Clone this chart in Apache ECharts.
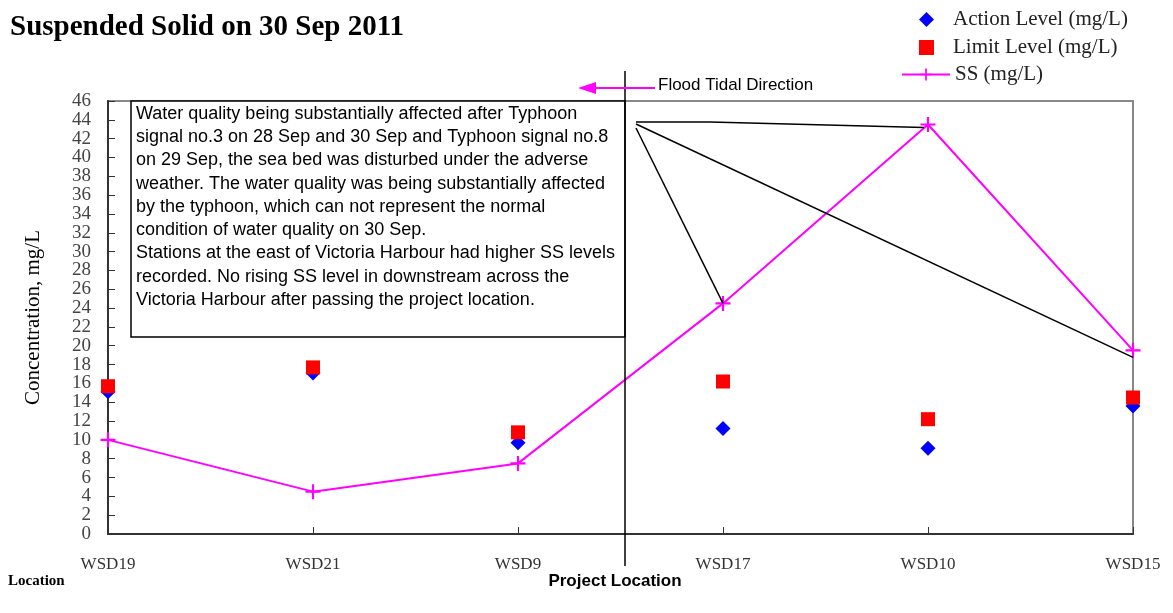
<!DOCTYPE html>
<html>
<head>
<meta charset="UTF-8"/>
<title>Suspended Solid on 30 Sep 2011</title>
<script src="https://cdn.jsdelivr.net/npm/echarts@6/dist/echarts.min.js"></script>
<style>
html, body { margin: 0; padding: 0; background: #fff; }
#main { width: 1173px; height: 613px; }
</style>
</head>
<body>
<div id="main"></div>
<script type="text/javascript">
// stations (left to right)
var stations = ['WSD19', 'WSD21', 'WSD9', 'WSD17', 'WSD10', 'WSD15'];
// values, mg/L
var actionLevel = [15.1, 17.1, 9.7, 11.2, 9.1, 13.6];
var limitLevel = [15.7, 17.7, 10.8, 16.2, 12.2, 14.5];
var ssValues = [10, 4.5, 7.5, 24.5, 43.5, 19.5];
var yTicks = { min: 0, max: 46, step: 2 };

var noteLines = [
  'Water quality being substantially affected after Typhoon',
  'signal no.3 on 28 Sep and 30 Sep and Typhoon signal no.8',
  'on 29 Sep, the sea bed was disturbed under the adverse',
  'weather. The water quality was being substantially affected',
  'by the typhoon, which can not represent the normal',
  'condition of water quality on 30 Sep.',
  'Stations at the east of Victoria Harbour had higher SS levels',
  'recorded. No rising SS level in downstream across the',
  'Victoria Harbour after passing the project location.'
];

var serif = '"Liberation Serif", "DejaVu Serif", serif';
var sans = '"Liberation Sans", Arial, sans-serif';
var plus = 'path://M6,0h2v6h6v2h-6v6h-2v-6h-6v-2h6z';

var legendText = { fontFamily: serif, fontSize: 21, color: '#222' };

var myChart = echarts.init(document.getElementById('main'));

var option = {
  animation: false,
  backgroundColor: '#fff',
  title: {
    text: 'Suspended Solid on 30 Sep 2011',
    left: 5, top: 8,
    textStyle: { fontFamily: serif, fontSize: 29, fontWeight: 'bold', color: '#000' }
  },
  // one legend per row so that scatter icons keep their own size
  legend: [
    { left: 914, top: 4, itemWidth: 15, itemHeight: 15,
      textStyle: Object.assign({ padding: [0, 0, 0, 14] }, legendText),
      data: ['Action Level (mg/L)'] },
    { left: 914, top: 32, itemWidth: 15, itemHeight: 15,
      textStyle: Object.assign({ padding: [0, 0, 0, 14] }, legendText),
      data: ['Limit Level (mg/L)'] },
    { left: 896, top: 59, itemWidth: 48, itemHeight: 15,
      textStyle: Object.assign({ padding: [0, 0, 0, 0] }, legendText),
      data: ['SS (mg/L)'] }
  ],
  grid: {
    left: 108, right: 40, top: 101, bottom: 79,
    show: true, borderColor: '#888', borderWidth: 2, backgroundColor: '#fff'
  },
  xAxis: {
    type: 'category',
    data: stations,
    boundaryGap: false,
    axisLine: { lineStyle: { color: '#333', width: 2 } },
    axisTick: { inside: true, length: 7, lineStyle: { color: '#333' } },
    axisLabel: { margin: 22, fontFamily: serif, fontSize: 17, color: '#333' },
    splitLine: { show: false }
  },
  yAxis: {
    type: 'value',
    min: yTicks.min, max: yTicks.max, interval: yTicks.step,
    name: 'Concentration, mg/L',
    nameLocation: 'middle',
    nameGap: 64,
    nameTextStyle: { fontFamily: serif, fontSize: 21, color: '#000' },
    axisLine: { show: true, lineStyle: { color: '#333', width: 2 } },
    axisTick: { show: true, inside: true, length: 7, lineStyle: { color: '#333' } },
    axisLabel: { margin: 17, fontFamily: serif, fontSize: 19, color: '#444' },
    splitLine: { show: false }
  },
  series: [
    {
      name: 'Action Level (mg/L)',
      type: 'scatter',
      symbol: 'diamond',
      symbolSize: 15,
      itemStyle: { color: '#0000ff', opacity: 1 },
      data: actionLevel,
      z: 3
    },
    {
      name: 'Limit Level (mg/L)',
      type: 'scatter',
      symbol: 'rect',
      symbolSize: 14,
      itemStyle: { color: '#ff0000', opacity: 1 },
      data: limitLevel,
      z: 4
    },
    {
      name: 'SS (mg/L)',
      type: 'line',
      symbol: plus,
      symbolSize: 15,
      showSymbol: true,
      lineStyle: { color: '#ff00ff', width: 2 },
      itemStyle: { color: '#ff00ff' },
      data: ssValues,
      z: 5
    }
  ]
};

myChart.setOption(option, true);

// annotations: note box, project location line, tidal arrow, callout lines
var px = function (i, v) { return myChart.convertToPixel({ gridIndex: 0 }, [i, v]); };
var p17 = px(3, ssValues[3]);
var p10 = px(4, ssValues[4]);
var p15 = px(5, ssValues[5]);
var projX = 625;

var graphics = [
  { type: 'rect', shape: { x: 131, y: 101, width: projX - 131, height: 236 },
    style: { fill: '#fff', stroke: '#000', lineWidth: 1.5 }, z: 10 },
  { type: 'text', x: 136, y: 102,
    style: { text: noteLines.join('\n'), font: '18px ' + sans, fill: '#000', lineHeight: 23.3 }, z: 11 },
  { type: 'line', shape: { x1: projX, y1: 71, x2: projX, y2: 566 },
    style: { stroke: '#000', lineWidth: 1.5 }, z: 12 },
  { type: 'text', x: 615, y: 581,
    style: { text: 'Project Location', font: 'bold 17px ' + sans, fill: '#000', align: 'center', verticalAlign: 'middle' }, z: 12 },
  { type: 'text', x: 8, y: 581,
    style: { text: 'Location', font: 'bold 15px ' + serif, fill: '#000', verticalAlign: 'middle' }, z: 12 },
  { type: 'line', shape: { x1: 592, y1: 88, x2: 655, y2: 88 },
    style: { stroke: '#ff00ff', lineWidth: 2 }, z: 12 },
  { type: 'polygon', shape: { points: [[578, 88], [596, 82], [596, 94]] },
    style: { fill: '#ff00ff' }, z: 12 },
  { type: 'text', x: 658, y: 85,
    style: { text: 'Flood Tidal Direction', font: '17px ' + sans, fill: '#000', verticalAlign: 'middle' }, z: 12 },
  { type: 'polyline', shape: { points: [[636, 122], [710, 122], [p10[0] - 4, p10[1] + 3]] },
    style: { stroke: '#000', lineWidth: 1.5, fill: null }, z: 12 },
  { type: 'line', shape: { x1: 636, y1: 124, x2: p15[0], y2: p15[1] + 7 },
    style: { stroke: '#000', lineWidth: 1.5 }, z: 12 },
  { type: 'line', shape: { x1: 636, y1: 128, x2: p17[0], y2: p17[1] },
    style: { stroke: '#000', lineWidth: 1.5 }, z: 12 }
];

myChart.setOption({ graphic: graphics });
</script>
</body>
</html>
